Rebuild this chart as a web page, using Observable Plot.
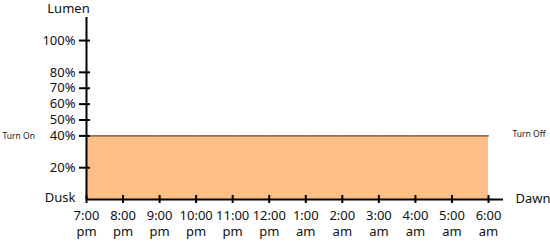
<!DOCTYPE html>
<html>
<head>
<meta charset="utf-8">
<script src="https://cdn.jsdelivr.net/npm/d3@7"></script>
<script src="https://cdn.jsdelivr.net/npm/@observablehq/plot@0.6"></script>
<style>
  html, body { margin: 0; padding: 0; background: #fff; }
  #chart svg { display: block; }
</style>
</head>
<body>
<div id="chart"></div>
<script>
const hours = [0, 1, 2, 3, 4, 5, 6, 7, 8, 9, 10, 11];
const hourLabels = ["7:00\npm", "8:00\npm", "9:00\npm", "10:00\npm", "11:00\npm", "12:00\npm",
                    "1:00\nam", "2:00\nam", "3:00\nam", "4:00\nam", "5:00\nam", "6:00\nam"];
const lumen = [40, 40, 40, 40, 40, 40, 40, 40, 40, 40, 40, 40];
const yTicks = [20, 40, 50, 60, 70, 80, 100];
const yTickLabels = ["20%", "40%", "50%", "60%", "70%", "80%", "100%"];

const data = hours.map((h, i) => ({hour: h, lumen: lumen[i]}));
const font = "'Noto Sans', sans-serif";

const chart = Plot.plot({
  width: 550,
  height: 241,
  marginLeft: 86,
  marginRight: 47,
  marginTop: 17,
  marginBottom: 42,
  style: {fontFamily: font, fontSize: "13px", color: "#111", background: "#fff", overflow: "visible"},
  x: {domain: [0, 11.41], axis: null},
  y: {domain: [0, 114.5], axis: null},
  marks: [
    Plot.areaY(data, {x: "hour", y: "lumen", fill: "#FDBF86"}),
    Plot.lineY(data, {x: "hour", y: "lumen", stroke: "#3a2a1a", strokeWidth: 1}),
    Plot.axisY(yTicks, {label: null, tickSize: 0, tickPadding: 11, tickFormat: (d, i) => yTickLabels[i], fontSize: 13, fill: "#111"}),
    Plot.axisX(hours, {label: null, tickSize: 0, tickPadding: 8, tickFormat: (d, i) => hourLabels[i], lineHeight: 1.3, fontSize: 13, fill: "#111"}),
    Plot.ruleY(yTicks, {x1: 0, x2: 0, insetLeft: -7, insetRight: -4, stroke: "#000", strokeWidth: 2}),
    Plot.ruleX(hours, {y1: 0, y2: 0, insetTop: -4, insetBottom: -4, stroke: "#000", strokeWidth: 2}),
    Plot.ruleX([0], {stroke: "#000", strokeWidth: 2}),
    Plot.ruleY([0], {stroke: "#000", strokeWidth: 2}),
    Plot.text(["Lumen"], {frameAnchor: "top-left", textAnchor: "middle", lineAnchor: "middle", dx: -18, dy: -8.5, fontSize: 13, fill: "#111"}),
    Plot.text(["Dusk"], {frameAnchor: "bottom-left", textAnchor: "end", lineAnchor: "middle", dx: -11, dy: -2, fontSize: 13, fill: "#111"}),
    Plot.text(["Dawn"], {frameAnchor: "bottom-right", textAnchor: "start", lineAnchor: "middle", dx: 12, dy: -1, fontSize: 13, fill: "#111"}),
    Plot.text(["Turn On"], {y: [40], frameAnchor: "left", textAnchor: "start", lineAnchor: "middle", dx: -84, fontSize: 8.5, fill: "#222"}),
    Plot.text(["Turn Off"], {y: [40], frameAnchor: "right", textAnchor: "start", lineAnchor: "middle", dx: 9, dy: -2, fontSize: 8.5, fill: "#222"})
  ]
});
document.getElementById("chart").appendChild(chart);
</script>
</body>
</html>
